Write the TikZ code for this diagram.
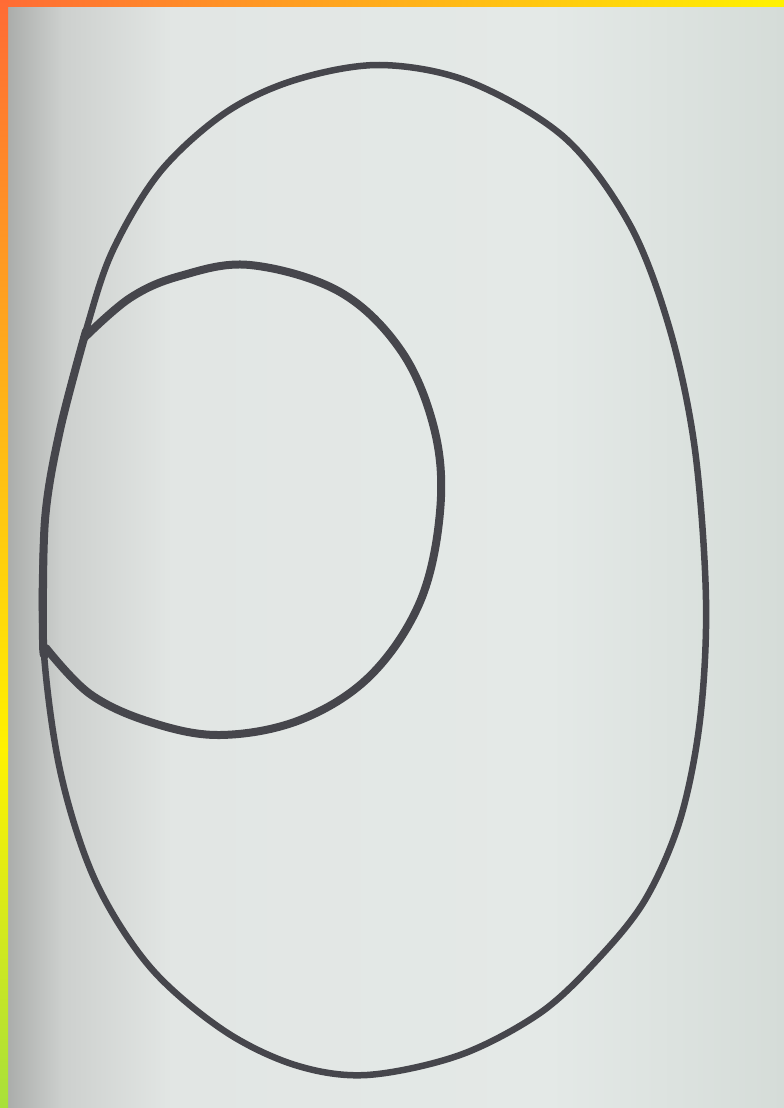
\documentclass[tikz,border=0pt]{standalone}
\definecolor{orng}{HTML}{FF6B35}
\definecolor{yell}{HTML}{FFF200}
\definecolor{grn}{HTML}{A8E03A}
\definecolor{ink}{HTML}{46464C}
\definecolor{paperA}{HTML}{A6A8A6}
\definecolor{paperB}{HTML}{CDD0CE}
\definecolor{paperC}{HTML}{E2E6E4}
\definecolor{paperD}{HTML}{E4E9E7}
\definecolor{paperE}{HTML}{D5DCD8}
\pgfdeclarehorizontalshading{paper}{100bp}{
  color(0bp)=(paperA); color(25bp)=(paperA); color(29bp)=(paperB);
  color(36bp)=(paperC); color(60bp)=(paperD); color(75bp)=(paperE);
  color(100bp)=(paperE)}
\tikzset{
  pen/.style={draw=ink, line width=6.5pt, line join=round, line cap=round},
  penthick/.style={draw=ink, line width=8pt, line join=round, line cap=round}
}
\begin{document}
\begin{tikzpicture}[x=1pt,y=-1pt]
\useasboundingbox (0,0) rectangle (784,1108);
% paper
\shade[shading=paper] (0,0) rectangle (784,1108);
% outer egg
\draw[pen] plot[smooth cycle, tension=0.55] coordinates {
  (380,65) (470,82) (565,138) (630,225) (670,330) (695,450) (706,600)
  (700,720) (680,820) (645,900) (597,960) (540,1013) (460,1055) (367,1075)
  (295,1065) (223,1030) (150,967) (95,880) (60,770) (43,640) (45,520) (60,430)
  (87,327) (113,250) (160,172) (225,113) (295,80)};
% inner circle (its left side is the outer line)
\draw[penthick] plot[smooth, tension=0.6] coordinates {
  (84,338) (130,298) (180,276) (250,265) (340,292) (402,352) (435,432) (440,512)
  (420,602) (370,676) (300,720) (220,735) (150,722) (90,694) (46,648)};
% shared left stretch, traced twice
\draw[penthick] plot[smooth, tension=0.55] coordinates {
  (86,331) (60,430) (45,520) (43,640) (45,655)};
% borders
\shade[left color=orng, right color=yell] (0,0) rectangle (784,7);
\shade[top color=orng, bottom color=yell] (0,0) rectangle (8,750);
\shade[top color=yell, bottom color=grn] (0,750) rectangle (8,1108);
\end{tikzpicture}
\end{document}
